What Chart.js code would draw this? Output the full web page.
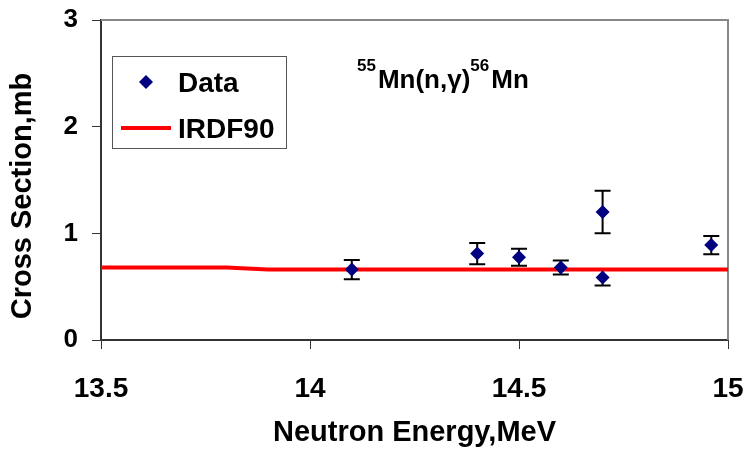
<!DOCTYPE html>
<html>
<head>
<meta charset="utf-8">
<script src="https://cdn.jsdelivr.net/npm/chart.js@4"></script>
<style>
html,body{margin:0;padding:0;background:#fff;}
#wrap{width:748px;height:459px;position:relative;}
</style>
</head>
<body>
<div id="wrap"><canvas id="c" width="748" height="459"></canvas></div>
<script>
// ---- data ----
const dataEnergy = [14.1, 14.4, 14.5, 14.6, 14.7, 14.7, 14.96];
const dataXS     = [0.66, 0.81, 0.775, 0.68, 1.20, 0.585, 0.89];
const dataErr    = [0.09, 0.10, 0.08, 0.065, 0.20, 0.075, 0.085];
const irdfEnergy = [13.5, 13.8, 13.9, 15.0];
const irdfXS     = [0.68, 0.68, 0.66, 0.66];
const xTicks = [13.5, 14, 14.5, 15];
const yTicks = [0, 1, 2, 3];

const FONT = "'Liberation Sans', Arial, sans-serif";

const errorBars = {
  id: 'errorBars',
  beforeDatasetsDraw(chart) {
    const {ctx, scales: {x, y}} = chart;
    ctx.save();
    ctx.strokeStyle = '#000';
    ctx.lineWidth = 2;
    dataEnergy.forEach((e, i) => {
      const px = x.getPixelForValue(e);
      const top = y.getPixelForValue(dataXS[i] + dataErr[i]);
      const bot = y.getPixelForValue(dataXS[i] - dataErr[i]);
      ctx.beginPath();
      ctx.moveTo(px, top); ctx.lineTo(px, bot);
      ctx.moveTo(px - 8, top); ctx.lineTo(px + 8, top);
      ctx.moveTo(px - 8, bot); ctx.lineTo(px + 8, bot);
      ctx.stroke();
    });
    ctx.restore();
  }
};

const frame = {
  id: 'frame',
  beforeDatasetsDraw(chart) {
    const {ctx, chartArea: a} = chart;
    ctx.save();
    ctx.strokeStyle = '#888';
    ctx.lineWidth = 2;
    ctx.beginPath();
    ctx.moveTo(a.left, a.top); ctx.lineTo(a.right, a.top); ctx.lineTo(a.right, a.bottom);
    ctx.stroke();
    ctx.restore();
  }
};

const overlay = {
  id: 'overlay',
  afterDraw(chart) {
    const {ctx} = chart;
    ctx.save();
    // y axis title
    ctx.save();
    ctx.translate(23, 196);
    ctx.rotate(-Math.PI / 2);
    ctx.fillStyle = '#000';
    ctx.font = 'bold 29px ' + FONT;
    ctx.textAlign = 'center';
    ctx.textBaseline = 'middle';
    ctx.fillText('Cross Section,mb', 0, 0);
    ctx.restore();
    // legend box
    ctx.fillStyle = '#fff';
    ctx.fillRect(112, 56, 174, 92);
    ctx.strokeStyle = '#555';
    ctx.lineWidth = 1;
    ctx.strokeRect(112.5, 56.5, 174, 92);
    // diamond
    ctx.fillStyle = '#000080';
    ctx.beginPath();
    ctx.moveTo(146, 75); ctx.lineTo(153, 82); ctx.lineTo(146, 89); ctx.lineTo(139, 82);
    ctx.closePath(); ctx.fill();
    // red line
    ctx.strokeStyle = '#ff0000';
    ctx.lineWidth = 4;
    ctx.beginPath(); ctx.moveTo(121, 128); ctx.lineTo(171, 128); ctx.stroke();
    ctx.fillStyle = '#000';
    ctx.font = 'bold 28px ' + FONT;
    ctx.textBaseline = 'alphabetic';
    ctx.textAlign = 'left';
    ctx.fillText('Data', 178, 92);
    ctx.fillText('IRDF90', 178, 138);
    // reaction label
    let xx = 357;
    ctx.font = 'bold 17px ' + FONT;
    ctx.fillText('55', xx, 71); xx += ctx.measureText('55').width + 2;
    ctx.font = 'bold 26px ' + FONT;
    ctx.fillText('Mn(n,\u03b3)', xx, 88); xx += ctx.measureText('Mn(n,\u03b3)').width;
    ctx.font = 'bold 17px ' + FONT;
    ctx.fillText('56', xx, 71); xx += ctx.measureText('56').width + 2;
    ctx.font = 'bold 26px ' + FONT;
    ctx.fillText('Mn', xx, 88);
    ctx.restore();
  }
};

new Chart(document.getElementById('c'), {
  type: 'scatter',
  data: {
    datasets: [
      {
        label: 'Data',
        data: dataEnergy.map((e, i) => ({x: e, y: dataXS[i]})),
        pointStyle: 'rectRot',
        pointRadius: 7,
        pointHoverRadius: 7,
        backgroundColor: '#000080',
        borderColor: '#000080',
        borderWidth: 0,
        showLine: false,
        order: 0
      },
      {
        label: 'IRDF90',
        data: irdfEnergy.map((e, i) => ({x: e, y: irdfXS[i]})),
        showLine: true,
        borderColor: '#ff0000',
        borderWidth: 4,
        pointRadius: 0,
        fill: false,
        order: 1
      }
    ]
  },
  options: {
    responsive: false,
    animation: false,
    events: [],
    layout: {padding: {top: 20, right: 20, left: 0, bottom: 0}},
    plugins: {legend: {display: false}, tooltip: {enabled: false}},
    scales: {
      x: {
        type: 'linear', min: 13.5, max: 15,
        afterBuildTicks: s => { s.ticks = xTicks.map(v => ({value: v})); },
        afterFit: s => { s.height = 119; s.paddingLeft = 0; s.paddingRight = 0; },
        grid: {drawOnChartArea: false, drawTicks: true, tickLength: 9, color: '#333', lineWidth: 1},
        border: {color: '#333', width: 2},
        ticks: {color: '#000', font: {family: FONT, size: 28, weight: 'bold'}, padding: 23, maxRotation: 0, autoSkip: false,
                callback: v => String(v)},
        title: {display: true, text: 'Neutron Energy,MeV', color: '#000', font: {family: FONT, size: 29, weight: 'bold'}, padding: {top: 0, bottom: 9}}
      },
      y: {
        type: 'linear', min: 0, max: 3,
        afterBuildTicks: s => { s.ticks = yTicks.map(v => ({value: v})); },
        afterFit: s => { s.width = 101; s.paddingTop = 0; s.paddingBottom = 0; },
        grid: {drawOnChartArea: false, drawTicks: true, tickLength: 9, color: '#333', lineWidth: 1},
        border: {color: '#333', width: 2},
        ticks: {color: '#000', font: {family: FONT, size: 26, weight: 'bold'}, padding: 14, callback: v => String(v)},
        title: {display: false}
      }
    }
  },
  plugins: [errorBars, frame, overlay]
});
</script>
</body>
</html>
